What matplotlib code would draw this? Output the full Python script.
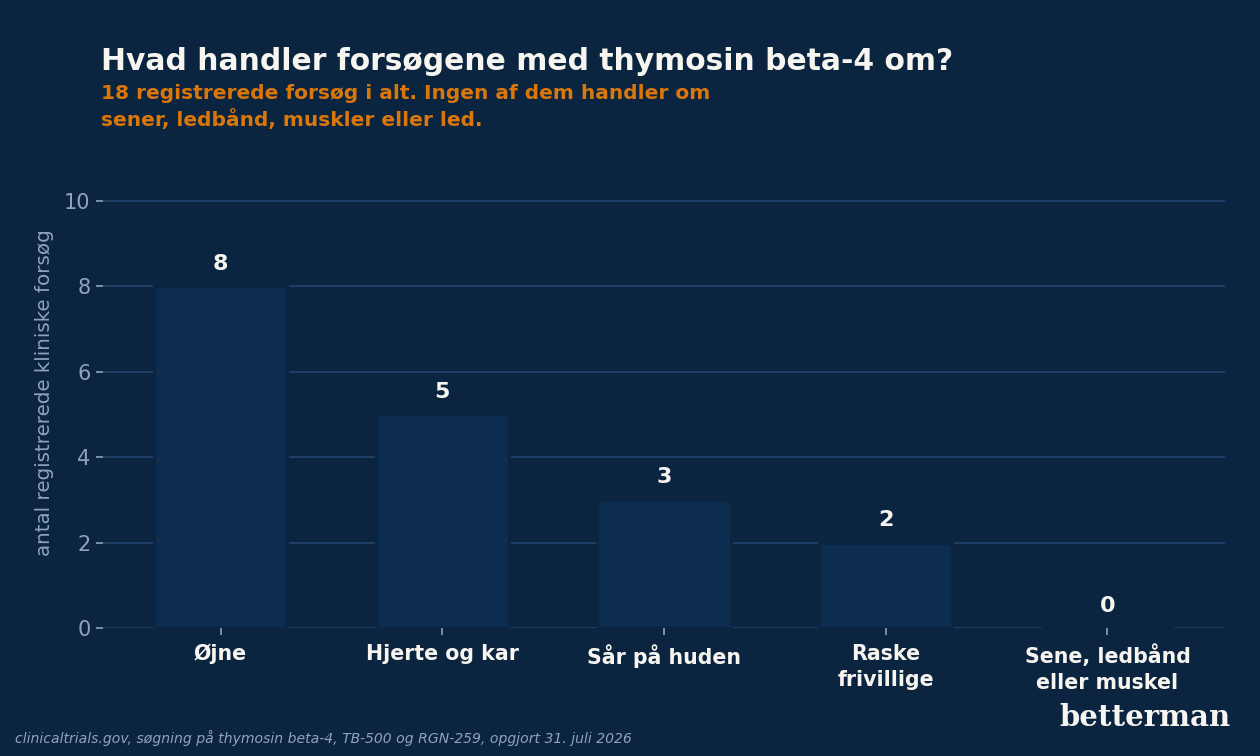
import matplotlib
matplotlib.use("Agg")
import matplotlib.pyplot as plt

categories = ["Øjne", "Hjerte og kar", "Sår på huden", "Raske\nfrivillige", "Sene, ledbånd\neller muskel"]
values = [8, 5, 3, 2, 0]
yticks = [0, 2, 4, 6, 8, 10]

title = "Hvad handler forsøgene med thymosin beta-4 om?"
subtitle = "18 registrerede forsøg i alt. Ingen af dem handler om\nsener, ledbånd, muskler eller led."
ylabel = "antal registrerede kliniske forsøg"
source = "clinicaltrials.gov, søgning på thymosin beta-4, TB-500 og RGN-259, opgjort 31. juli 2026"
logo = "betterman"

BG = "#0b2440"
BAR = "#0d2d50"
GRID = "#1e3e66"
TICKC = "#8fa3bd"
WHITE = "#f7f5f0"
ORANGE = "#d9770b"

fig = plt.figure(figsize=(12.6, 7.56), dpi=100, facecolor=BG)
ax = fig.add_axes([103/1260, 1-628/756, (1225-103)/1260, (628-158)/756])
ax.set_facecolor(BG)

x = list(range(len(categories)))
bars = ax.bar(x, values, width=0.6, color=BAR, edgecolor=BG, linewidth=2.2, zorder=3)
ax.set_ylim(0, 11)
ax.set_xlim(-0.53, len(categories) - 1 + 0.53)
ax.set_yticks(yticks)
ax.set_yticklabels([str(t) for t in yticks], fontsize=15, color=TICKC)
ax.set_xticks(x)
ax.set_xticklabels(categories, fontsize=14.8, color=WHITE, fontweight="bold", linespacing=1.36)
ax.tick_params(axis="y", length=5, width=1.2, color=TICKC, pad=4)
ax.tick_params(axis="x", length=5, width=1.2, color=TICKC, pad=6.5)
ax.grid(axis="y", color=GRID, linewidth=1.5, zorder=0)
ax.set_axisbelow(True)
for s in ax.spines.values():
    s.set_visible(False)

for xi, v in zip(x, values):
    ax.annotate(str(v), (xi, v), xytext=(0, 9), textcoords="offset points",
                ha="center", va="bottom", fontsize=16, fontweight="bold", color=WHITE, zorder=4)

ax.set_ylabel(ylabel, fontsize=14.3, color=TICKC, labelpad=7)

fig.text(101/1260, 1-69.5/756, title, fontsize=21.4, fontweight="bold", color=WHITE, va="baseline", ha="left")
fig.text(101/1260, 1-126.2/756, subtitle, fontsize=14.5, fontweight="bold", color=ORANGE, va="baseline", ha="left", linespacing=1.35)
fig.text(15/1260, 1-738/756, source, fontsize=10.1, style="italic", color=TICKC, va="center", ha="left")
fig.text(1231/1260, 1-718/756, logo, fontsize=21, fontweight="bold", family="DejaVu Serif", color=WHITE, va="center", ha="right")

fig.savefig("out.png", dpi=100, facecolor=BG)
